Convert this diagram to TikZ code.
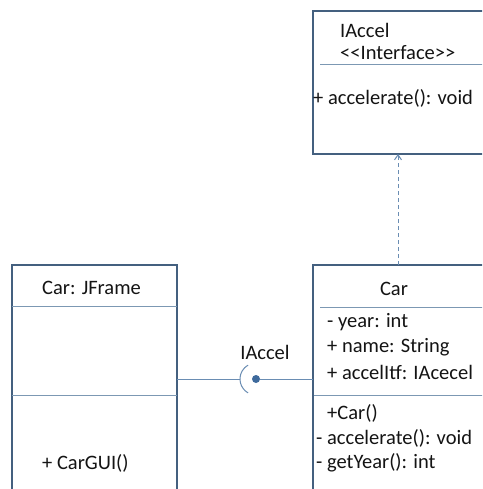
\documentclass[tikz,border=0pt]{standalone}
\usepackage{fontspec}
\setmainfont{Carlito}
\usetikzlibrary{arrows.meta}
\definecolor{boxc}{HTML}{44607F}
\definecolor{divc}{HTML}{7C98B3}
\definecolor{linec}{HTML}{6A8DB3}
\definecolor{dotc}{HTML}{3E6A9C}
\begin{document}
\begin{tikzpicture}[x=1pt,y=-1pt,
  umlbox/.style={draw=boxc,line width=2.4pt,anchor=north west,inner sep=0pt,outer sep=0pt},
  divider/.style={draw=divc,line width=1pt},
  conn/.style={draw=linec,line width=1pt},
  txt/.style={anchor=west,inner sep=0pt,font=\fontsize{20.5}{24}\selectfont,text=black!92},
  ctxt/.style={txt,anchor=center}]
\useasboundingbox (0,0) rectangle (482,489);
\clip (0,0) rectangle (482,489);
\fill[white] (0,0) rectangle (482,489);
% boxes
\node[umlbox,minimum width=200pt,minimum height=143pt] (iface) at (313,11) {};
\node[umlbox,minimum width=200pt,minimum height=250pt] (car) at (313,265) {};
\node[umlbox,minimum width=165pt,minimum height=250pt] (jframe) at (12,265) {};
% dividers
\coordinate (i1) at (320,65);
\draw[divider] (i1) -- (i1 -| iface.east);
\coordinate (c1) at (320,307);
\draw[divider] (c1) -- (c1 -| car.east);
\coordinate (c2) at (314,395);
\draw[divider] (c2) -- (c2 -| car.east);
\coordinate (j1) at (12,306);
\draw[divider] (j1) -- (j1 -| jframe.east);
\coordinate (j2) at (12,395);
\draw[divider] (j2) -- (j2 -| jframe.east);
% texts
\node[txt] (t1) at (340,30) {IAccel};
\node[txt] (t2) at (340,53) {<{}<Interface>{}>};
\node[txt] (t3) at (313,98) {+ accelerate(): void};
\node[ctxt] (t4) at (394,289) {Car};
\node[txt] (t5) at (327,322) {- year: int};
\node[txt] (t6) at (327,347) {+ name: String};
\node[txt] (t7) at (327,372) {+ accelItf: IAcecel};
\node[txt] (t8) at (327,413) {+Car()};
\node[txt] (t9) at (316,438) {- accelerate(): void};
\node[txt] (t10) at (316,463) {- getYear(): int};
\node[txt] (t11) at (42,288) {Car: JFrame};
\node[txt] (t12) at (42,463) {+ CarGUI()};
% realization (dashed)
\coordinate (ds) at (398,265);
\draw[conn,dash pattern=on 4pt off 3pt,-{Straight Barb[length=5pt,width=7pt]}] (ds) -- (ds |- iface.south);
% socket / lollipop
\node[circle,fill=dotc,inner sep=0pt,minimum size=8pt] (dot) at (256,379) {};
\draw[conn] ([shift={(120:16)}]dot.center) arc[start angle=120,end angle=240,radius=16];
\coordinate (sockL) at (240,379);
\draw[conn] (jframe.east |- sockL) -- (sockL);
\draw[conn] (dot) -- (dot -| car.west);
\node[ctxt] (lbl) at (265,352) {IAccel};
\end{tikzpicture}
\end{document}
